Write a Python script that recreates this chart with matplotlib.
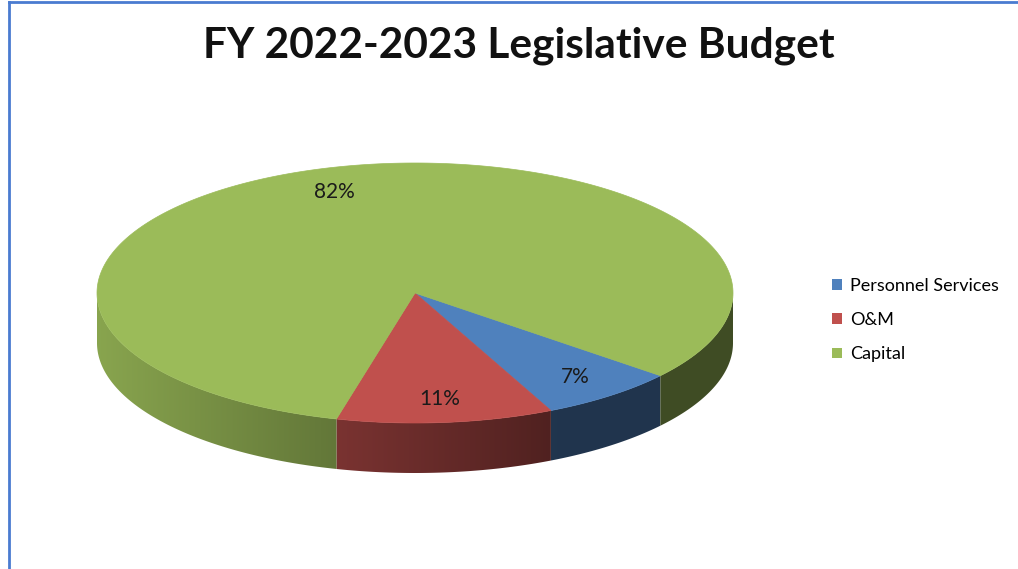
import numpy as np
import matplotlib
matplotlib.use("Agg")
import matplotlib.pyplot as plt
from matplotlib.patches import Patch, Polygon

categories = ["Personnel Services", "O&M", "Capital"]
shares = [7, 11, 82]
pct_labels = ["7%", "11%", "82%"]
colors = ["#4F81BD", "#C0504D", "#9BBB59"]

plt.rcParams["font.family"] = ["Lato", "DejaVu Sans"]

W, H = 1018, 569
fig = plt.figure(figsize=(W / 100, H / 100), dpi=100)
ax = fig.add_axes([0, 0, 1, 1])
ax.set_xlim(0, W)
ax.set_ylim(H, 0)
ax.axis("off")

# pie geometry (pixels): centre, radii of the top ellipse, thickness
cx, cy = 415, 293
rx, ry = 318, 130
depth = 50
start = -39.5  # degrees, slices run clockwise


def pt(t_deg, r=1.0, dz=0.0):
    t = np.radians(t_deg)
    return cx + r * rx * np.cos(t), cy - r * ry * np.sin(t) + dz


def side_factor(x):
    # lighter on the left of the wall, darker towards the right
    c = (x - cx) / rx
    return np.clip(0.88 - (c + 1) * 0.46 / 1.42, 0.41, None)


fracs = np.array(shares, dtype=float) / sum(shares)
bounds = start - 360 * np.concatenate([[0], np.cumsum(fracs)])

# side wall: only the front half of each turn is visible
xgrid = np.linspace(cx - rx, cx + rx, 400)
for i, col in enumerate(colors):
    hi, lo = bounds[i], bounds[i + 1]
    rgb = np.array(matplotlib.colors.to_rgb(col))
    for k in range(2):
        seg_hi = min(hi, -360 * k)
        seg_lo = max(lo, -180 - 360 * k)
        if seg_hi <= seg_lo:
            continue
        ts = np.linspace(seg_hi, seg_lo, 200)
        xt, yt = pt(ts)
        poly = Polygon(np.c_[np.r_[xt, xt[::-1]], np.r_[yt, yt[::-1] + depth]],
                       closed=True, facecolor="none", edgecolor="none")
        ax.add_patch(poly)
        img = side_factor(xgrid)[None, :, None] * rgb[None, None, :]
        im = ax.imshow(img, extent=(xgrid[0], xgrid[-1], cy + ry + depth + 2, cy - 2),
                       aspect="auto", interpolation="bilinear", zorder=1)
        im.set_clip_path(poly)

# top faces
for i, col in enumerate(colors):
    ts = np.linspace(bounds[i], bounds[i + 1], 300)
    xs, ys = pt(ts)
    ax.fill(np.r_[cx, xs], np.r_[cy, ys], color=col, lw=0.5, ec=col, zorder=2)

# percentage labels
for i, lab in enumerate(pct_labels):
    mid = (bounds[i] + bounds[i + 1]) / 2
    x, y = pt(mid, r=0.82)
    ax.text(x, y, lab, ha="center", va="center", fontsize=15, color="#1a1a1a",
            zorder=3)

ax.text(519, 46, "FY 2022-2023 Legislative Budget", ha="center", va="center",
        fontsize=30.5, fontweight="bold", color="#111111")

handles = [Patch(facecolor=c, edgecolor="none") for c in colors]
fig.legend(handles, categories, loc="upper left",
           bbox_to_anchor=(816 / W, 1 - 262 / H), frameon=False,
           fontsize=13, handlelength=0.55, handleheight=0.55,
           handletextpad=0.45, labelspacing=1.0)

# chart frame lines along the top and left edges
ax.plot([9, W], [2, 2], color="#4A7BD0", lw=2, clip_on=False)
ax.plot([9, 9], [2, H], color="#4A7BD0", lw=2, clip_on=False)

ax.set_xlim(0, W)
ax.set_ylim(H, 0)
fig.savefig("out.png", dpi=100)
